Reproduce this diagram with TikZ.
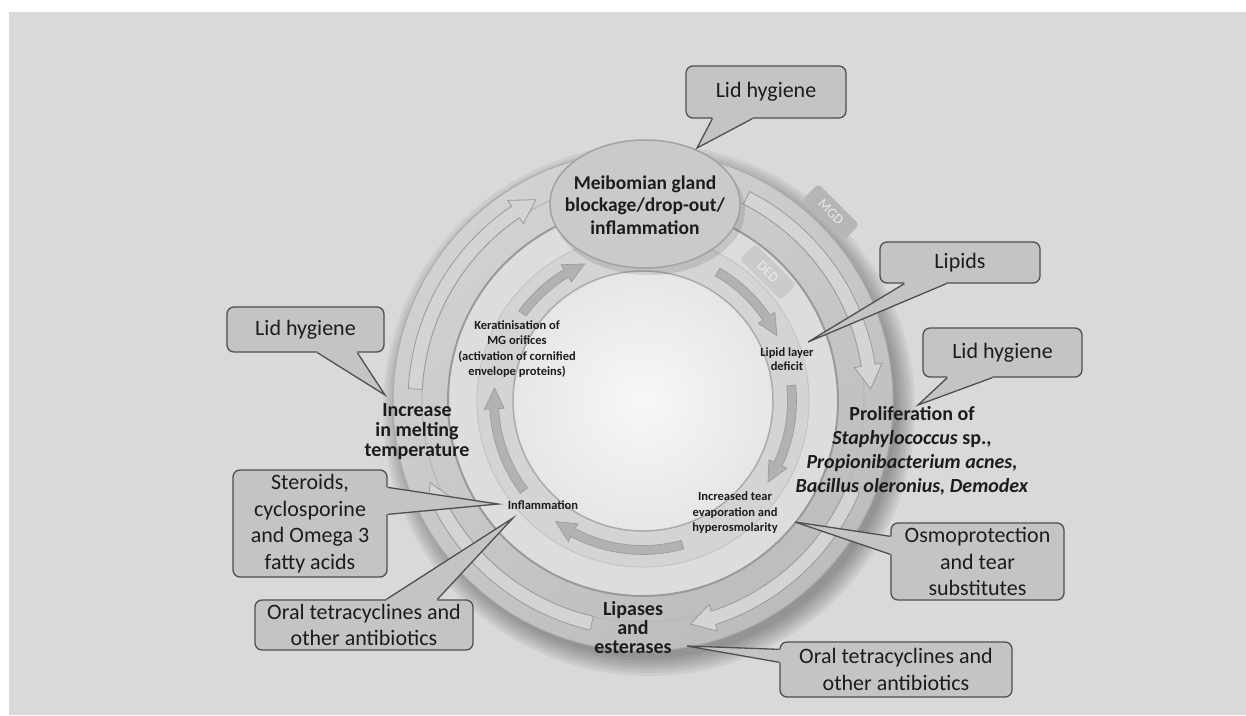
\documentclass[tikz,border=0pt]{standalone}
\usepackage{fontspec}
\setmainfont{Carlito}
\usetikzlibrary{calc,shapes.geometric}
\definecolor{bgg}{HTML}{D9D9D9}
\definecolor{ringA}{HTML}{CBCBCB}
\definecolor{ringLight}{HTML}{D2D2D2}
\definecolor{ringDark}{HTML}{BCBCBC}
\definecolor{ringEdge}{HTML}{ABABAB}
\definecolor{gapc}{HTML}{DDDDDD}
\definecolor{ringB}{HTML}{D4D4D4}
\definecolor{centrec}{HTML}{E6E6E6}
\definecolor{arrOutFill}{HTML}{D4D4D4}
\definecolor{arrOutLine}{HTML}{9A9A9A}
\definecolor{arrInFill}{HTML}{B2B2B2}
\definecolor{arrInLine}{HTML}{999999}
\definecolor{ellFill}{HTML}{CACACA}
\definecolor{ellLine}{HTML}{A2A2A2}
\definecolor{callFill}{HTML}{C4C4C4}
\definecolor{callLine}{HTML}{4F4F4F}
\definecolor{txt}{HTML}{1C1C1C}
\definecolor{tabMGD}{HTML}{B6B6B6}
\definecolor{tabDED}{HTML}{CBCBCB}

% #1 start angle, #2 tip angle, #3 head length (deg), #4 radius, #5 half shaft, #6 half head, #7 style
\newcommand\ringarrow[7]{%
  \pgfmathsetmacro\arBase{#2-#3}%
  \pgfmathsetmacro\arOut{#4+#5}%
  \pgfmathsetmacro\arIn{#4-#5}%
  \pgfmathsetmacro\arHo{#4+#6}%
  \pgfmathsetmacro\arHi{#4-#6}%
  \filldraw[#7] (#1:\arOut) arc[start angle=#1, end angle=\arBase, radius=\arOut]
    -- (\arBase:\arHo) -- (#2:#4) -- (\arBase:\arHi) -- (\arBase:\arIn)
    arc[start angle=\arBase, end angle=#1, radius=\arIn] -- cycle;
}
% #1 base A, #2 base B, #3 tip, #4 inward offset
\newcommand\callptr[4]{%
  \fill[callFill] ($(#1)+#4$) -- (#1) -- (#3) -- (#2) -- ($(#2)+#4$) -- cycle;
  \draw[callLine, line width=1.3pt, line join=miter] (#1) -- (#3) -- (#2);
}

\begin{document}
\begin{tikzpicture}[x=1pt,y=-1pt,
  callbox/.style={draw=callLine, fill=callFill, rounded corners=7pt, line width=1.3pt, inner sep=0pt, align=center, text=txt, font=\fontsize{22}{26.5}\selectfont},
  ringtext/.style={inner sep=0pt, align=center, text=txt, font=\bfseries\fontsize{20}{20}\selectfont},
  smalltext/.style={inner sep=0pt, align=center, text=txt, font=\bfseries\fontsize{12.5}{15.5}\selectfont},
  tabbox/.style={rounded corners=4pt, inner sep=0pt, minimum width=58pt, minimum height=22pt, text=white!92!black, font=\fontsize{14}{14}\selectfont},
  outarrow/.style={fill=arrOutFill, draw=arrOutLine, line width=0.8pt},
  inarrow/.style={fill=arrInFill, draw=arrInLine, line width=0.6pt}]
\useasboundingbox (0,0) rectangle (1246,715);
\fill[white] (0,0) rectangle (1246,715);
\fill[bgg] (9,12) rectangle (1246,715);

% rings
\begin{scope}[shift={(643,401)}]
  \foreach \s in {266,263,...,248} \fill[black,opacity=0.05] (6,9) circle (\s);
  \shade[top color=ringLight, bottom color=ringDark, shading angle=35] (0,0) circle (250);
  \draw[ringEdge, line width=1pt] (0,0) circle (250);
  \draw[ringEdge!85!white, line width=1.2pt] (0,0) circle (221);
  \fill[gapc] (0,0) circle (195);
  \draw[ringEdge!90!black, line width=2pt] (0,0) circle (195);
  \fill[ringB] (0,0) circle (166);
  \draw[ringEdge!70!white, line width=1pt] (0,0) circle (166);
  \shade[inner color=white!97!black, outer color=centrec] (0,0) circle (130);
  \draw[ringEdge, line width=1.5pt] (0,0) circle (130);
\end{scope}

% tabs
\node[tabbox, fill=tabMGD, rotate=-45] (mgd) at (831,212) {MGD};
\node[tabbox, fill=tabDED, rotate=-45] (ded) at (768,272) {DED};

% ring arrows
\begin{scope}[shift={(643,401)}]
  \ringarrow{183}{242}{6}{228}{7}{14}{outarrow}
  \ringarrow{-63}{-3}{6}{228}{7}{14}{outarrow}
  \ringarrow{23}{78}{6}{228}{7}{14}{outarrow}
  \ringarrow{103}{159}{6}{228}{7}{14}{outarrow}
  \ringarrow{143}{185}{8}{149}{4.5}{10}{inarrow}
  \ringarrow{216}{247}{8}{149}{4.5}{10}{inarrow}
  \ringarrow{300}{334}{8}{149}{4.5}{10}{inarrow}
  \ringarrow{-6}{33}{8}{149}{4.5}{10}{inarrow}
  \ringarrow{74.6}{126}{8}{149}{4.5}{10}{inarrow}
\end{scope}

% central ellipse
\fill[black, opacity=0.10] (649,210) ellipse [x radius=96, y radius=65];
\node[ellipse, fill=ellFill, draw=ellLine, line width=1.5pt, minimum width=190pt, minimum height=128pt, inner sep=0pt] (meib) at (645,204) {};
\node[ringtext, font=\bfseries\fontsize{19.5}{22.5}\selectfont] (meibtxt) at (645,205) {Meibomian gland\\blockage/drop-out/\\inflammation};

% ring labels
\node[ringtext] (incr) at (417,432) {Increase\\in melting\\temperature};
\node[ringtext, font=\bfseries\fontsize{20}{24}\selectfont] (prolif) at (912,451)
  {Proliferation of\\\textit{Staphylococcus} sp.,\\\textit{Propionibacterium acnes,}\\\textit{Bacillus oleronius, Demodex}};
\node[ringtext, font=\bfseries\fontsize{20}{19}\selectfont] (lipases) at (633,628) {Lipases\\and\\esterases};
\node[smalltext] (kerat) at (517,349) {Keratinisation of\\MG orifices\\(activation of cornified\\envelope proteins)};
\node[smalltext, font=\bfseries\fontsize{12.5}{14.5}\selectfont] (lipid) at (787,359) {Lipid layer\\deficit};
\node[smalltext] (tear) at (735,513) {Increased tear\\evaporation and\\hyperosmolarity};
\node[smalltext] (infl) at (543,505) {Inflammation};

% callout boxes
\node[callbox, minimum width=160pt, minimum height=52pt] (lhtop) at (766,92) {Lid hygiene};
\node[callbox, minimum width=160pt, minimum height=41pt] (lipids) at (960,262.5) {Lipids};
\node[callbox, minimum width=159pt, minimum height=49pt] (lhright) at (1002.5,352.5) {Lid hygiene};
\node[callbox, minimum width=173pt, minimum height=77pt] (osmo) at (977.5,561.5) {Osmoprotection\\and tear\\substitutes};
\node[callbox, minimum width=232pt, minimum height=55pt] (oralR) at (896,669.5) {Oral tetracyclines and\\other antibiotics};
\node[callbox, minimum width=157pt, minimum height=45pt] (lhleft) at (305.5,329.5) {Lid hygiene};
\node[callbox, minimum width=154pt, minimum height=107pt] (ster) at (310,523.5) {Steroids,\\cyclosporine\\and Omega 3\\fatty acids};
\node[callbox, minimum width=218pt, minimum height=50pt] (oralL) at (364,625) {Oral tetracyclines and\\other antibiotics};

% pointer bases and tips
\coordinate (a1) at ($(lhtop.south west)+(27,0)$);
\coordinate (b1) at ($(lhtop.south west)+(67,0)$);
\coordinate (t1) at (697,148);
\coordinate (a2) at ($(lipids.south west)+(25,0)$);
\coordinate (b2) at ($(lipids.south west)+(67,0)$);
\coordinate (t2) at (808,342);
\coordinate (a3) at ($(lhright.south west)+(25,0)$);
\coordinate (b3) at ($(lhright.south west)+(70,0)$);
\coordinate (t3) at (918,405);
\coordinate (a4) at ($(osmo.north west)+(0,14)$);
\coordinate (b4) at ($(osmo.north west)+(0,32)$);
\coordinate (t4) at (795,522);
\coordinate (a5) at ($(oralR.north west)+(0,8)$);
\coordinate (b5) at ($(oralR.north west)+(0,21)$);
\coordinate (t5) at (687,646);
\coordinate (a6) at ($(lhleft.south west)+(91,0)$);
\coordinate (b6) at ($(lhleft.south west)+(131,0)$);
\coordinate (t6) at (385,395);
\coordinate (a7) at ($(ster.north east)+(0,18)$);
\coordinate (b7) at ($(ster.north east)+(0,45)$);
\coordinate (t7) at (498,504);
\coordinate (a8) at ($(oralL.north west)+(132,0)$);
\coordinate (b8) at ($(oralL.north west)+(183,0)$);
\coordinate (t8) at (513,518);

\callptr{a1}{b1}{t1}{(0,-2.5)}
\callptr{a2}{b2}{t2}{(0,-2.5)}
\callptr{a3}{b3}{t3}{(0,-2.5)}
\callptr{a4}{b4}{t4}{(2.5,0)}
\callptr{a5}{b5}{t5}{(2.5,0)}
\callptr{a6}{b6}{t6}{(0,-2.5)}
\callptr{a7}{b7}{t7}{(-2.5,0)}
\callptr{a8}{b8}{t8}{(0,2.5)}
\end{tikzpicture}
\end{document}
